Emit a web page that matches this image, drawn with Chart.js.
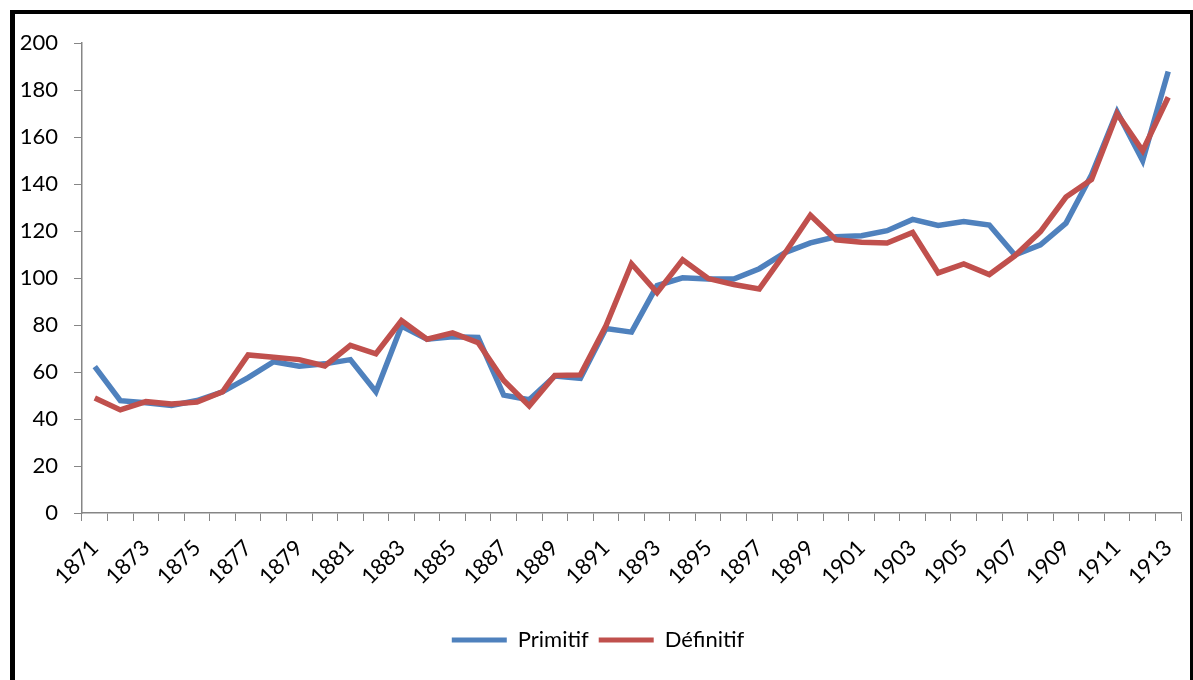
<!DOCTYPE html>
<html>
<head>
<meta charset="utf-8">
<script src="https://cdn.jsdelivr.net/npm/chart.js@4.4.1/dist/chart.umd.min.js"></script>
<style>
  html, body { margin: 0; padding: 0; background: #fff; }
  #frame {
    position: absolute; left: 10px; top: 10px; width: 1175px; height: 666px;
    border-top: 4px solid #000; border-left: 5px solid #000; border-right: 3px solid #000;
  }
  #chart { display: block; }
</style>
</head>
<body>
<div id="frame"><canvas id="chart" width="1175" height="666"></canvas></div>
<script>
// Primitif vs Définitif, 1871-1913
const years = ['1871','1872','1873','1874','1875','1876','1877','1878','1879','1880',
  '1881','1882','1883','1884','1885','1886','1887','1888','1889','1890',
  '1891','1892','1893','1894','1895','1896','1897','1898','1899','1900',
  '1901','1902','1903','1904','1905','1906','1907','1908','1909','1910',
  '1911','1912','1913'];

const primitif = [62.3, 47.8, 46.9, 45.8, 47.9, 51.6, 57.6, 64.4, 62.5, 63.5,
  65.3, 51.6, 79.6, 74.0, 75.0, 74.7, 50.2, 48.2, 58.3, 57.3,
  78.5, 77.0, 96.8, 100.1, 99.6, 99.6, 104.0, 110.8, 115.0, 117.6,
  118.0, 120.2, 125.0, 122.4, 124.1, 122.6, 109.8, 114.2, 123.4, 144.0,
  170.8, 150.0, 188.0];

const definitif = [49.0, 43.9, 47.4, 46.4, 47.2, 51.6, 67.3, 66.3, 65.3, 62.6,
  71.4, 67.8, 81.9, 74.0, 76.7, 72.5, 56.4, 45.6, 58.5, 58.8,
  79.7, 106.1, 93.8, 107.8, 99.8, 97.3, 95.4, 110.6, 126.8, 116.3,
  115.3, 114.9, 119.4, 102.2, 106.0, 101.5, 109.5, 119.8, 134.5, 142.0,
  170.0, 154.2, 177.0];

(function(){
  'use strict';

  const axisGrey = '#868686';
  const fontFamily = 'Lato, "Open Sans", sans-serif';

  const ctx = document.getElementById('chart').getContext('2d');

  // flat legend swatches (no stroke), kept in dataset order
  function legendItems(chart){
    const items = Chart.defaults.plugins.legend.labels.generateLabels(chart);
    items.forEach(it => { it.lineWidth = 0; });
    return items.sort((a,b) => a.datasetIndex - b.datasetIndex);
  }

  new Chart(ctx, {
    type: 'line',
    data: {
      labels: years,
      datasets: [
        {
          label: 'Primitif',
          data: primitif,
          borderColor: '#4F81BD',
          backgroundColor: '#4F81BD',
          borderWidth: 5.5,
          pointRadius: 0,
          tension: 0,
          order: 1
        },
        {
          label: 'Définitif',
          data: definitif,
          borderColor: '#C0504D',
          backgroundColor: '#C0504D',
          borderWidth: 5.5,
          pointRadius: 0,
          tension: 0,
          order: 0
        }
      ]
    },
    options: {
      responsive: false,
      animation: false,
      layout: { padding: { top: 27, right: 9, bottom: 19, left: 0 } },
      plugins: {
        legend: {
          position: 'bottom',
          labels: {
            color: '#000',
            font: { family: fontFamily, size: 22 },
            boxWidth: 55,
            boxHeight: 5,
            padding: 10,
            generateLabels: legendItems
          }
        },
        tooltip: { enabled: false }
      },
      scales: {
        x: {
          offset: true,
          grid: {
            offset: true,
            drawOnChartArea: false,
            drawTicks: true,
            tickLength: 8,
            color: axisGrey
          },
          border: { color: axisGrey, width: 1.5 },
          ticks: {
            autoSkip: false,
            maxRotation: 45,
            minRotation: 45,
            padding: 14,
            color: '#000',
            font: { family: fontFamily, size: 22 },
            callback: function(val, i){ return i % 2 === 0 ? this.getLabelForValue(val) : ''; }
          },
          afterFit: function(scale){
            scale.height = 106;
            // rotated labels should not squeeze the plot sideways
            scale.paddingLeft = 0;
            scale.paddingRight = 0;
          }
        },
        y: {
          min: 0,
          max: 200,
          grid: {
            drawOnChartArea: false,
            drawTicks: true,
            tickLength: 8,
            color: axisGrey
          },
          border: { color: axisGrey, width: 1.5 },
          ticks: {
            stepSize: 20,
            padding: 16,
            color: '#000',
            font: { family: fontFamily, size: 22 }
          },
          afterFit: function(scale){ scale.width = 67; }
        }
      }
    }
  });
})();
</script>
</body>
</html>
